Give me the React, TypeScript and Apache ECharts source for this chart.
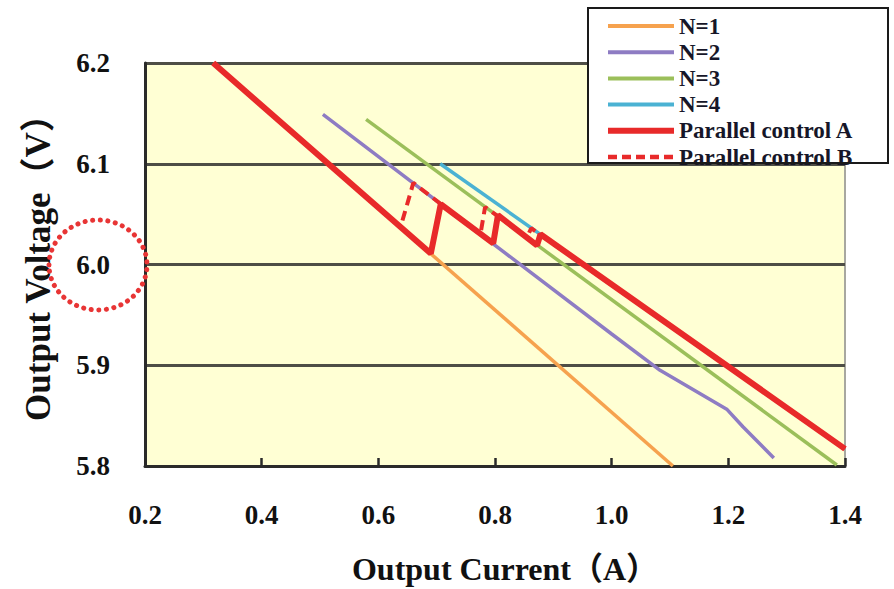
import React, { useEffect, useRef } from "react";
import * as echarts from "echarts";

const xTicks = [0.2, 0.4, 0.6, 0.8, 1.0, 1.2, 1.4];
const yTicks = [5.8, 5.9, 6.0, 6.1, 6.2];

const xTitle = "Output Current（A）";
const yTitle = "Output Voltage（V）";

const seriesNames = ["N=1", "N=2", "N=3", "N=4", "Parallel control A", "Parallel control B"];

const n1: number[][] = [[0.317, 6.2], [1.105, 5.8]];
const n2: number[][] = [[0.505, 6.149], [1.0, 5.931], [1.083, 5.895], [1.198, 5.856], [1.225, 5.839], [1.278, 5.808]];
const n3: number[][] = [[0.579, 6.144], [1.386, 5.801]];
const n4: number[][] = [[0.706, 6.1], [1.4, 5.817]];
const controlA: number[][] = [
  [0.317, 6.2], [0.69, 6.011], [0.707, 6.06], [0.797, 6.021], [0.805, 6.049],
  [0.872, 6.019], [0.878, 6.03], [1.4, 5.817],
];
const controlB: number[][] = [
  [0.317, 6.2], [0.638, 6.037], [0.66, 6.081], [0.775, 6.03], [0.783, 6.057],
  [0.855, 6.027], [0.862, 6.036], [1.4, 5.817],
];

const colors = ["#F6A24E", "#8E7CC3", "#9BBF5A", "#4BB2D3", "#E82A2A", "#E82A2A"];

const FONT = "'Liberation Serif', 'Noto Sans CJK SC', serif";

export default function App() {
  const ref = useRef<HTMLDivElement>(null);
  useEffect(() => {
    if (!ref.current) return;
    const chart = echarts.init(ref.current, null, { renderer: "svg" });
    const datasets = [n1, n2, n3, n4, controlA, controlB];
    const widths = [3.5, 3.5, 3.5, 3.5, 6, 4];
    chart.setOption({
      animation: false,
      backgroundColor: "#ffffff",
      color: colors,
      grid: {
        left: 145, top: 63, width: 700, height: 403,
        show: true, backgroundColor: "#FFFFD4", borderColor: "#A8A8A0", borderWidth: 2,
      },
      legend: {
        orient: "vertical", left: 600, top: 9, z: 6,
        itemWidth: 66, itemHeight: 14, itemGap: 2.2,
        itemStyle: { opacity: 0 },
        data: seriesNames.map((name, i) => ({
          name,
          lineStyle: { width: i === 4 ? 6 : i === 5 ? 4.5 : 4, type: i === 5 ? [9, 5] : "solid", color: colors[i] },
        })),
        textStyle: { fontFamily: FONT, fontWeight: "bold", fontSize: 23, color: "#161628", lineHeight: 24 },
      },
      graphic: [
        { type: "rect", z: 3, shape: { x: 588, y: 8, width: 300, height: 155 }, style: { fill: "#ffffff" } },
        { type: "rect", z: 10, shape: { x: 588, y: 8, width: 300, height: 155 }, style: { fill: "none", stroke: "#1a1a1a", lineWidth: 2 } },
        {
          type: "ellipse", z: 10,
          shape: { cx: 98, cy: 265, rx: 49, ry: 45 },
          style: { fill: "none", stroke: "#E83535", lineWidth: 5, lineDash: [0.1, 7.5], lineCap: "round" },
        },
        {
          type: "text", z: 10, x: 505, y: 569,
          style: {
            text: xTitle, fontFamily: FONT, fontWeight: "bold", fontSize: 32, fill: "#111",
            align: "center", verticalAlign: "middle",
          },
        },
        {
          type: "text", z: 9, x: 38, y: 259, rotation: Math.PI / 2,
          style: {
            text: yTitle, fontFamily: FONT, fontWeight: "bold", fontSize: 35, fill: "#111",
            align: "center", verticalAlign: "middle",
          },
        },
      ],
      xAxis: {
        type: "value", min: 0.2, max: 1.4, interval: 0.2,
        axisLine: { show: true, lineStyle: { color: "#2a2a2a", width: 3 } },
        axisTick: { show: true, inside: true, length: 8, lineStyle: { color: "#2a2a2a", width: 2.5 } },
        splitLine: { show: false },
        axisLabel: {
          margin: 35, fontFamily: FONT, fontWeight: "bold", fontSize: 27, color: "#111",
          formatter: (v: number) => v.toFixed(1),
          customValues: xTicks,
        },
      },
      yAxis: {
        type: "value", min: 5.8, max: 6.2, interval: 0.1,
        axisLine: { show: true, lineStyle: { color: "#2a2a2a", width: 3 } },
        axisTick: { show: false },
        splitLine: { show: true, lineStyle: { color: "#4E4E46", width: 3 } },
        axisLabel: {
          margin: 35, fontFamily: FONT, fontWeight: "bold", fontSize: 27, color: "#111",
          formatter: (v: number) => v.toFixed(1),
          customValues: yTicks,
        },
      },
      series: seriesNames.map((name, i) => ({
        name,
        type: "line",
        data: datasets[i],
        symbol: "none",
        z: i >= 4 ? 3 : 2,
        lineStyle: { width: widths[i], color: colors[i], type: i === 5 ? [10, 6] : "solid" },
        itemStyle: { color: colors[i] },
      })),
    });
    return () => chart.dispose();
  }, []);
  return <div ref={ref} style={{ position: "fixed", left: 0, top: 0, width: 894, height: 589 }} />;
}
